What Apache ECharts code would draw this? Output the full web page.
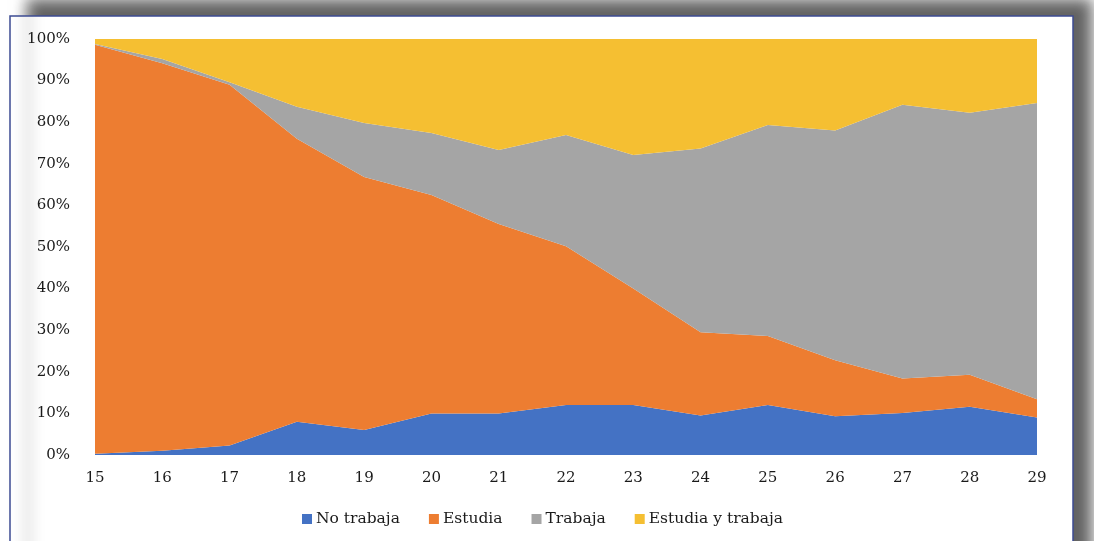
<!DOCTYPE html>
<html>
<head>
<meta charset="utf-8">
<script src="https://cdn.jsdelivr.net/npm/echarts@6/dist/echarts.min.js"></script>
<style>
	html, body { margin: 0; padding: 0; background: #fff; }
	#chart { width: 1094px; height: 541px; }
</style>
</head>
<body>
<div id="chart"></div>
<script>
// edades (eje x)
const edades = ['15', '16', '17', '18', '19', '20', '21', '22', '23', '24', '25', '26', '27', '28', '29']

// porcentajes
const noTrabaja = [0.3, 1.0, 2.3, 8.0, 6.0, 10.0, 10.0, 12.0, 12.0, 9.5, 12.0, 9.3, 10.1, 11.6, 9.0]
const estudia = [98.3, 93.2, 86.7, 68.0, 60.8, 52.5, 45.5, 38.2, 28.0, 20.0, 16.6, 13.5, 8.3, 7.7, 4.4]
const trabaja = [0.2, 1.0, 0.6, 7.7, 13.0, 14.9, 17.8, 26.7, 32.1, 44.2, 50.7, 55.2, 65.8, 63.0, 71.2]
const estudiaYTrabaja = [1.2, 4.8, 10.4, 16.3, 20.2, 22.6, 26.7, 23.1, 27.9, 26.3, 20.7, 22.0, 15.8, 17.7, 15.4]

const nombres = ['No trabaja', 'Estudia', 'Trabaja', 'Estudia y trabaja']
const colores = ['#4472C4', '#ED7D31', '#A5A5A5', '#F5BF32']

const chart = echarts.init(document.getElementById('chart'))

// cada serie es un área apilada
const makeSerie = (name, data, color) => ({
	name: name,
	type: 'line',
	stack: 'total',
	data: data,
	showSymbol: false,
	symbol: 'none',
	lineStyle: { width: 0 },
	itemStyle: { color: color },
	areaStyle: { color: color, opacity: 1 },
	z: 3
})

const fuente = 'DejaVu Serif'

chart.setOption({
	animation: false,
	textStyle: { fontFamily: fuente },
	// marco con sombra
	graphic: [
		{
			type: 'rect',
			z: -10,
			silent: true,
			shape: { x: 10, y: 16, width: 1063, height: 560 },
			style: {
				fill: '#fff',
				stroke: '#3d4b92',
				lineWidth: 1.5,
				shadowBlur: 14,
				shadowOffsetX: 18,
				shadowOffsetY: -16,
				shadowColor: 'rgba(0,0,0,0.62)'
			}
		}
	],
	grid: { left: 95, right: 57, top: 39, bottom: 86 },
	legend: {
		data: nombres,
		left: 297,
		top: 506,
		icon: 'rect',
		itemWidth: 10,
		itemHeight: 10,
		itemGap: 29,
		textStyle: { fontFamily: fuente, fontSize: 15.5, color: '#1a1a1a', padding: [0, 0, 0, -1] }
	},
	xAxis: {
		type: 'category',
		data: edades,
		boundaryGap: false,
		axisLine: { show: false },
		axisTick: { show: false },
		axisLabel: { color: '#1a1a1a', fontSize: 15, margin: 16, fontFamily: fuente }
	},
	yAxis: {
		type: 'value',
		min: 0,
		max: 100,
		interval: 10,
		splitLine: { show: false },
		axisLine: { show: false },
		axisTick: { show: false },
		axisLabel: { color: '#1a1a1a', fontSize: 15, margin: 25, fontFamily: fuente, formatter: '{value}%' }
	},
	series: [
		makeSerie(nombres[0], noTrabaja, colores[0]),
		makeSerie(nombres[1], estudia, colores[1]),
		makeSerie(nombres[2], trabaja, colores[2]),
		makeSerie(nombres[3], estudiaYTrabaja, colores[3])
	]
})
</script>
</body>
</html>
